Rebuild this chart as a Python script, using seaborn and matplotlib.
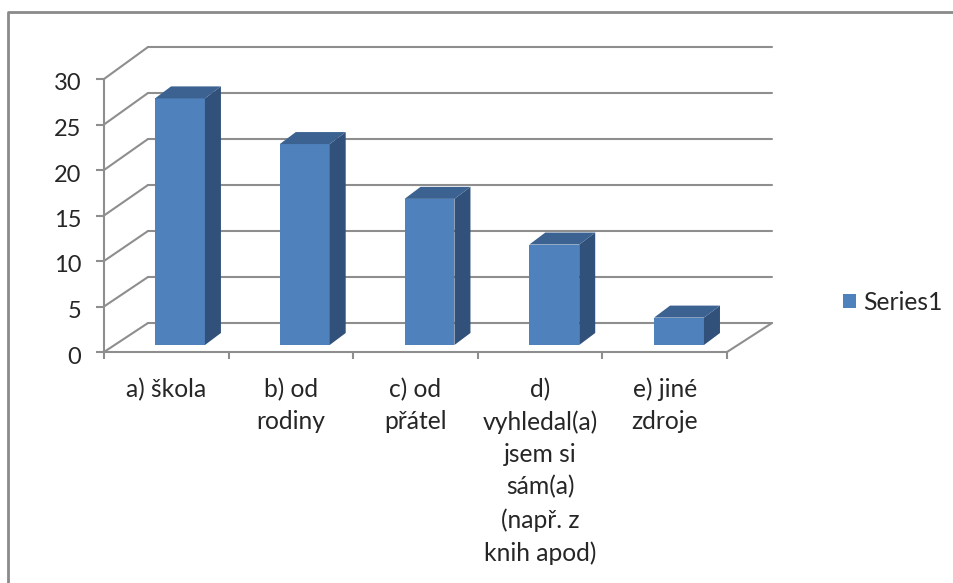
import matplotlib
matplotlib.use("Agg")
import matplotlib.pyplot as plt
import seaborn as sns
from matplotlib.lines import Line2D
from matplotlib.patches import Polygon
from matplotlib.transforms import ScaledTranslation

# ============================
# DATA
# ============================
categories = ["a) škola", "b) od\nrodiny", "c) od\npřátel",
              "d)\nvyhledal(a)\njsem si\nsám(a)\n(např. z\nknih apod)",
              "e) jiné\nzdroje"]
values = [27, 22, 16, 11, 3]
y_ticks = [0, 5, 10, 15, 20, 25, 30]
series_name = "Series1"

# ============================
# STYLE
# ============================
W, H = 954, 583
GREY = "#8e8e8e"
FRONT = "#4f81bd"
SIDE = "#31507a"
TOP = "#3b6290"
TEXT = "#262626"

sns.set_theme(style="white")
plt.rcParams["font.family"] = ["Lato", "DejaVu Sans"]


def px_axes(fig, left, right, top, bottom):
    # axes placed by pixel edges of the picture
    return fig.add_axes([left / W, 1 - bottom / H, (right - left) / W, (bottom - top) / H])


fig = plt.figure(figsize=(W / 100, H / 100), dpi=100, facecolor="white")

# back wall, carries the horizontal gridlines
back = px_axes(fig, 148, 772, 47, 323)
back.set_xlim(-0.5, 4.5)
back.set_ylim(0, 30)
back.set_yticks(y_ticks)
back.set_xticks([])
back.tick_params(left=False, labelleft=False)
back.grid(axis="y", color=GREY, lw=1.5, clip_on=False)
sns.despine(ax=back, left=True, bottom=True)
back.patch.set_alpha(0)

# front axes, carries ticks and labels
front = px_axes(fig, 104, 727, 79, 352)
front.set_xlim(-0.5, 4.5)
front.set_ylim(0, 30)
front.patch.set_alpha(0)
front.set_yticks(y_ticks)
front.set_xticks([i - 0.5 for i in range(len(categories) + 1)])
front.set_xticks(range(len(categories)), categories, minor=True, fontsize=17.7,
                 color=TEXT, linespacing=1.48, va="top")
front.tick_params(axis="x", which="major", labelbottom=False, bottom=True, length=5, width=1.5, color=GREY)
front.tick_params(axis="x", which="minor", bottom=False, pad=14.5)
front.tick_params(axis="y", left=True, length=6, width=1.5, color=GREY, labelsize=17,
                  labelcolor=TEXT, pad=10.5)
for label in front.get_yticklabels():
    label.set_transform(label.get_transform() + ScaledTranslation(0, -3 / 100, fig.dpi_scale_trans))
sns.despine(ax=front)
for side in ["left", "bottom"]:
    front.spines[side].set_color(GREY)
    front.spines[side].set_linewidth(1.5)

# bars, sit a little behind the front axes
bars = px_axes(fig, 117.6, 741.4, 71, 345)
sns.barplot(x=categories, y=values, ax=bars, width=0.4, color=FRONT, saturation=1,
            linewidth=0, label=series_name, legend=False)
bars.set_xlim(-0.5, 4.5)
bars.set_ylim(0, 30)
handles, labels = bars.get_legend_handles_labels()
if bars.get_legend() is not None:
    bars.get_legend().remove()
bars.axis("off")

# 3D faces of each bar, taken from the drawn bar
dx = 16 / 124.75
dy = 12 / (274 / 30)
for patch in list(bars.patches):
    x0, x1 = patch.get_x(), patch.get_x() + patch.get_width()
    h = patch.get_height()
    bars.add_patch(Polygon([(x1, 0), (x1 + dx, dy), (x1 + dx, h + dy), (x1, h)], color=SIDE, lw=0, clip_on=False))
    bars.add_patch(Polygon([(x0, h), (x0 + dx, h + dy), (x1 + dx, h + dy), (x1, h)], color=TOP, lw=0, clip_on=False))

# depth lines between front axes and back wall
to_fig = fig.transFigure.inverted()


def depth_line(x, y):
    p0 = to_fig.transform(front.transData.transform((x, y)))
    p1 = to_fig.transform(back.transData.transform((x, y)))
    fig.add_artist(Line2D([p0[0], p1[0]], [p0[1], p1[1]], color=GREY, lw=1.5))


for tick in y_ticks:
    depth_line(-0.5, tick)
depth_line(4.5, 0)

# chart area frame runs off the picture on the right and bottom
fig.add_artist(Line2D([8 / W, 8 / W, 1], [0, 1 - 12 / H, 1 - 12 / H], color="#8a8a8a", lw=2))

fig.legend(handles, labels, loc="center left", bbox_to_anchor=(821 / W, 1 - 302 / H), frameon=False,
           fontsize=17.7, labelcolor=TEXT, handlelength=0.53, handleheight=0.53, handletextpad=0.28)

fig.savefig("out.png", dpi=100)
